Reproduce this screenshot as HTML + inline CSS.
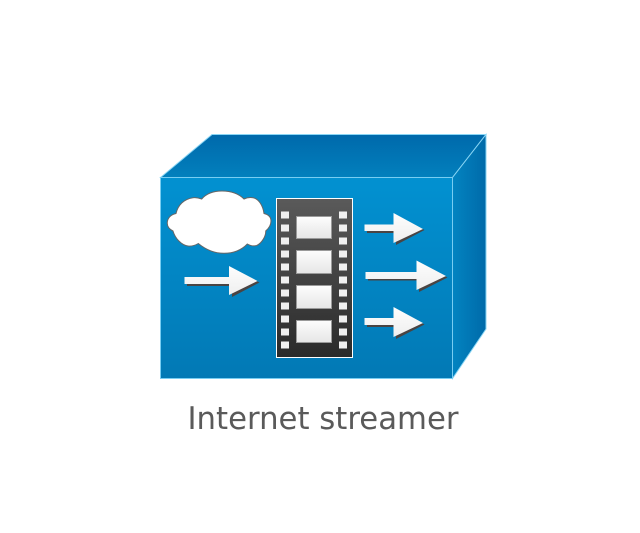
<!DOCTYPE html>
<html>
<head>
<meta charset="utf-8">
<style>
html,body{margin:0;padding:0;background:#fff;width:640px;height:533px;overflow:hidden}
svg{display:block}
</style>
</head>
<body>
<svg width="640" height="533" viewBox="0 0 640 533" xmlns="http://www.w3.org/2000/svg">
<defs>
<linearGradient id="front" x1="0" y1="0" x2="0" y2="1"><stop offset="0" stop-color="#0291d1"/><stop offset="1" stop-color="#0279b5"/></linearGradient>
<linearGradient id="top" x1="0" y1="0" x2="0" y2="1"><stop offset="0" stop-color="#0069ab"/><stop offset="1" stop-color="#0280bd"/></linearGradient>
<linearGradient id="side" x1="0" y1="0" x2="1" y2="0"><stop offset="0" stop-color="#0284c1"/><stop offset="1" stop-color="#006aa9"/></linearGradient>
<linearGradient id="film" x1="0" y1="0" x2="0" y2="1"><stop offset="0" stop-color="#5a5a5a"/><stop offset="1" stop-color="#2a2a2a"/></linearGradient>
<linearGradient id="frame" x1="0" y1="0" x2="0" y2="1"><stop offset="0" stop-color="#fdfdfd"/><stop offset="1" stop-color="#e6e6e6"/></linearGradient>
<linearGradient id="arrow" x1="0" y1="0" x2="0" y2="1"><stop offset="0" stop-color="#fdfdfd"/><stop offset="1" stop-color="#efefef"/></linearGradient>
</defs>
<polygon points="160.5,177.5 212,134.5 486,134.5 452.5,177.5" fill="url(#top)" stroke="#8ad6f5" stroke-width="1"/>
<polygon points="452.5,177.5 486,134.5 486,329 452.5,378.5" fill="url(#side)" stroke="#8ad6f5" stroke-width="1"/>
<rect x="160.5" y="177.5" width="292" height="201" fill="url(#front)" stroke="#78cdf2" stroke-width="1"/>
<path d="M176 213.5 C178 205,184 199,193 197.7 C196 197.3,199 198,201.7 199 C206 194,213 191,222 191 C231 191,239 194,244 199 C247 197.5,250 197.3,253 197.7 C259 199,263 206,264 213.5 C268 214.5,271 217,271 221 C271 226,268 229,265.7 231 C266 236,262 243,256.7 245.5 C253 246.5,250 245.5,247.3 244 C242 249.5,234 253.3,224 253.3 C213 253.3,205 249,198.3 243.5 C194 246,191 246.5,188 246 C181 245,175 238,173 231 C169 229,167 226,167.3 222.5 C167.5 218,171 214.5,176 213.5 Z" fill="#fff" stroke="#666" stroke-width="1"/>
<rect x="276.5" y="198.5" width="76" height="159" fill="url(#film)" stroke="#fff" stroke-width="1"/>
<g fill="#f0f0f0">
<rect x="281" y="211.5" width="8" height="7"/><rect x="281" y="224.5" width="8" height="7"/><rect x="281" y="237.5" width="8" height="7"/><rect x="281" y="250.5" width="8" height="7"/><rect x="281" y="263.5" width="8" height="7"/><rect x="281" y="276.5" width="8" height="7"/><rect x="281" y="289.5" width="8" height="7"/><rect x="281" y="302.5" width="8" height="7"/><rect x="281" y="315.5" width="8" height="7"/><rect x="281" y="328.5" width="8" height="7"/><rect x="281" y="341.5" width="8" height="7"/>
<rect x="339" y="211.5" width="8" height="7"/><rect x="339" y="224.5" width="8" height="7"/><rect x="339" y="237.5" width="8" height="7"/><rect x="339" y="250.5" width="8" height="7"/><rect x="339" y="263.5" width="8" height="7"/><rect x="339" y="276.5" width="8" height="7"/><rect x="339" y="289.5" width="8" height="7"/><rect x="339" y="302.5" width="8" height="7"/><rect x="339" y="315.5" width="8" height="7"/><rect x="339" y="328.5" width="8" height="7"/><rect x="339" y="341.5" width="8" height="7"/>
</g>
<g fill="url(#frame)" stroke="#9a9a9a" stroke-width="1">
<rect x="296.5" y="216.5" width="35" height="22"/>
<rect x="296.5" y="250.5" width="35" height="23"/>
<rect x="296.5" y="285.5" width="35" height="23"/>
<rect x="296.5" y="320.5" width="35" height="22"/>
</g>
<g fill="#4a4443">
<polygon points="187,279 232,279 232,268 259.5,282.5 232,297 232,286 187,286"/>
<polygon points="367,226 396,226 396,215 424.5,230 396,245 396,233 367,233"/>
<polygon points="368,273.5 419,273.5 419,262.5 447.5,277.5 419,292 419,280.5 368,280.5"/>
<polygon points="367,320 396,320 396,309 424.5,324.5 396,339 396,327 367,327"/>
</g>
<g fill="url(#arrow)">
<polygon points="184.5,277 229,277 229,266 257.5,281 229,295 229,284 184.5,284"/>
<polygon points="364.5,224.5 393.5,224.5 393.5,213 423,229 393.5,243 393.5,231 364.5,231"/>
<polygon points="365.5,272 416.5,272 416.5,260.5 446,276 416.5,290 416.5,279 365.5,279"/>
<polygon points="364.5,318 393.5,318 393.5,307 423,323 393.5,337 393.5,325 364.5,325"/>
</g>
<text x="187.5" y="429" font-family="'DejaVu Sans',sans-serif" font-size="31" fill="#5a5a5a" textLength="271" lengthAdjust="spacingAndGlyphs">Internet streamer</text>
</svg>
</body>
</html>
